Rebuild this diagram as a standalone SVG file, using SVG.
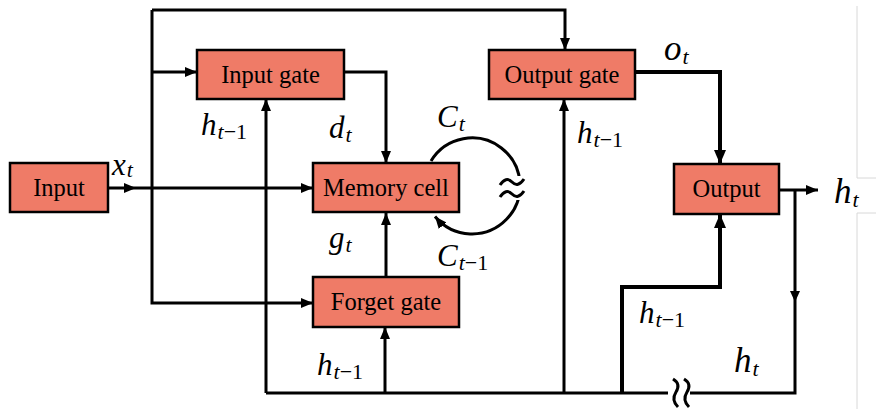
<svg xmlns="http://www.w3.org/2000/svg" width="876" height="409" viewBox="0 0 876 409">
<style>
.box{fill:#EF7B67;stroke:#000;stroke-width:2.5}
.lbl{font-family:"Liberation Serif","Times New Roman",serif;font-size:24.5px;fill:#000;text-anchor:middle}
.ln{fill:none;stroke:#000;stroke-width:3}
.thk{fill:none;stroke:#000;stroke-width:4}
.m{font-family:"Liberation Serif","Times New Roman",serif;font-style:italic;font-size:31px;fill:#000}
.big{font-size:35px}
.s{font-size:22px}
.u{font-style:normal}
.faint{stroke:#d8d8d8;stroke-width:1;fill:none}
</style>
<defs>
<marker id="a" viewBox="0 0 12 10" refX="12" refY="5" markerWidth="12" markerHeight="10" markerUnits="userSpaceOnUse" orient="auto">
<path d="M0,0 L12,5 L0,10 z" fill="#000"/>
</marker>
<marker id="a2" viewBox="0 0 14 12" refX="14" refY="6" markerWidth="14" markerHeight="12" markerUnits="userSpaceOnUse" orient="auto">
<path d="M0,0 L14,6 L0,12 z" fill="#000"/>
</marker>
</defs>
<rect width="876" height="409" fill="#fff"/>
<g id="frame">
<path class="faint" d="M857,6 V178 H876 M857,213 V409 M857,213 H876"/>
</g>
<g id="connectors">
<path class="ln" d="M152,10 V303 H313" marker-end="url(#a)"/>
<path class="ln" d="M152,10 H565 V50" marker-end="url(#a)"/>
<path class="ln" d="M152,72 H197" marker-end="url(#a)"/>
<path class="ln" d="M108,188 H313" marker-end="url(#a)"/>
<path d="M124,183 L136,188 L124,193 z" fill="#000"/>
<path class="ln" d="M344,72 H386 V163" marker-end="url(#a)"/>
<path class="ln" d="M386,277 V213" marker-end="url(#a)"/>
<path class="ln" d="M266,393 V99" marker-end="url(#a)"/>
<path class="ln" d="M266,393 H795 V190"/>
<path d="M790,291 L795,302 L800,291 z" fill="#000"/>
<path class="ln" d="M779,190 H818" marker-end="url(#a)"/>
<path class="ln" d="M385,393 V327" marker-end="url(#a)"/>
<path class="ln" d="M564,393 V99" marker-end="url(#a)"/>
<path class="thk" d="M635,72 H720 V164" marker-end="url(#a2)"/>
<path class="thk" d="M622,393 V287 H720 V214" marker-end="url(#a2)"/>
<path class="ln" d="M431,161 A48,48 0 1 1 435,216.5" marker-end="url(#a)"/>
<rect x="503" y="176" width="20" height="24" fill="#fff"/>
<path class="ln" d="M500,185 Q506,176 512,182 Q518,188 524,179"/>
<path class="ln" d="M500,197 Q506,188 512,194 Q518,200 524,191"/>
<rect x="668" y="388" width="22" height="10" fill="#fff"/>
<path class="ln" d="M673,379 Q681,384 676,392 Q671,400 678,407"/>
<path class="ln" d="M684,379 Q692,384 687,392 Q682,400 689,407"/>
</g>
<g id="input"><rect class="box" x="10" y="163" width="98" height="49"/><text class="lbl" x="59" y="196">Input</text></g>
<g id="input-gate"><rect class="box" x="197" y="50" width="147" height="49"/><text class="lbl" x="270.5" y="83">Input gate</text></g>
<g id="memory-cell"><rect class="box" x="313" y="163" width="146" height="49"/><text class="lbl" x="386" y="196">Memory cell</text></g>
<g id="forget-gate"><rect class="box" x="313" y="277" width="146" height="50"/><text class="lbl" x="386" y="310">Forget gate</text></g>
<g id="output-gate"><rect class="box" x="489" y="50" width="146" height="49"/><text class="lbl" x="562" y="83">Output gate</text></g>
<g id="output"><rect class="box" x="674" y="164" width="105" height="50"/><text class="lbl" x="726.5" y="197">Output</text></g>
<g id="labels">
<text class="m" x="112" y="175">x<tspan class="s" dx="1" dy="2">t</tspan></text>
<text class="m" x="201" y="135">h<tspan class="s" dx="1" dy="4">t</tspan><tspan class="s u">−1</tspan></text>
<text class="m" x="329" y="138">d<tspan class="s" dx="1" dy="4">t</tspan></text>
<text class="m" x="437" y="127">C<tspan class="s" dx="1" dy="4">t</tspan></text>
<text class="m big" x="664" y="60">o<tspan class="s" dx="1" dy="4">t</tspan></text>
<text class="m" x="577" y="143">h<tspan class="s" dx="1" dy="4">t</tspan><tspan class="s u">−1</tspan></text>
<text class="m big" x="834" y="203">h<tspan class="s" dx="1" dy="4">t</tspan></text>
<text class="m" x="329" y="248">g<tspan class="s" dx="1" dy="4">t</tspan></text>
<text class="m" x="437" y="266">C<tspan class="s" dx="1" dy="4">t</tspan><tspan class="s u">−1</tspan></text>
<text class="m" x="317" y="375">h<tspan class="s" dx="1" dy="4">t</tspan><tspan class="s u">−1</tspan></text>
<text class="m" x="639" y="323">h<tspan class="s" dx="1" dy="4">t</tspan><tspan class="s u">−1</tspan></text>
<text class="m big" x="734" y="372">h<tspan class="s" dx="1" dy="4">t</tspan></text>
</g>
</svg>
